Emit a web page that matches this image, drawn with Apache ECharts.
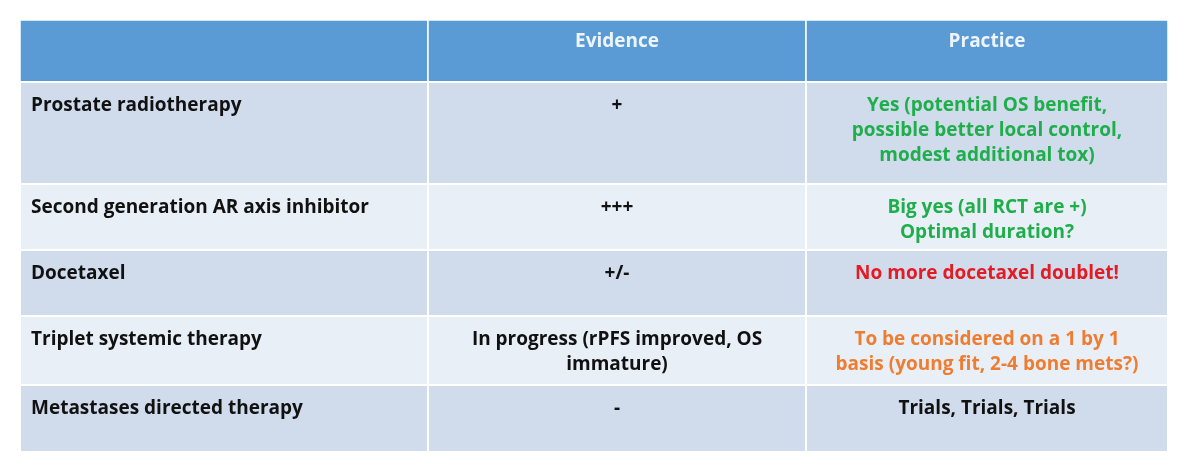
<!DOCTYPE html>
<html><head><meta charset="utf-8">
<script src="https://cdn.jsdelivr.net/npm/echarts@6/dist/echarts.min.js"></script>
<style>html,body{margin:0;background:#fff}#c{width:1200px;height:475px}</style>
</head><body><div id="c"></div>
<script>
const headers = ['', 'Evidence', 'Practice'];
const treatments = ['Prostate radiotherapy', 'Second generation AR axis inhibitor', 'Docetaxel', 'Triplet systemic therapy', 'Metastases directed therapy'];
const evidence = ['+', '+++', '+/-', 'In progress (rPFS improved, OS\nimmature)', '-'];
const practice = ['Yes (potential OS benefit,\npossible better local control,\nmodest additional tox)', 'Big yes (all RCT are +)\nOptimal duration?', 'No more docetaxel doublet!', 'To be considered on a 1 by 1\nbasis (young fit, 2-4 bone mets?)', 'Trials, Trials, Trials'];
const practiceTone = ['green', 'green', 'red', 'orange', 'black'];

// layout (not data)
const colEdges = [0, 408, 786, 1148];
const rowEdges = [0, 62, 164, 230, 296, 365, 432];
const toneColor = {green: '#1fae4b', red: '#e31b23', orange: '#ee7d31', black: '#111'};

const cells = [];
headers.forEach((h, c) => cells.push([c, 0, h, 'header']));
treatments.forEach((t, r) => {
  cells.push([0, r + 1, t, 'name']);
  cells.push([1, r + 1, evidence[r], 'ev']);
  cells.push([2, r + 1, practice[r], practiceTone[r]]);
});

const chart = echarts.init(document.getElementById('c'));
chart.setOption({
  animation: false,
  grid: {left: 20, right: 32, top: 20, bottom: 23},
  xAxis: {type: 'value', min: 0, max: 1148, show: false},
  yAxis: {type: 'value', min: 0, max: 432, inverse: true, show: false},
  series: [{
    type: 'custom',
    data: cells,
    renderItem: (params, api) => {
      const c = api.value(0), r = api.value(1);
      const d = cells[params.dataIndex];
      const p0 = api.coord([colEdges[c], rowEdges[r]]);
      const p1 = api.coord([colEdges[c + 1], rowEdges[r + 1]]);
      const kind = d[3];
      const fill = r === 0 ? '#5b9bd5' : (r % 2 === 1 ? '#d0dbec' : '#e9eff7');
      const left = c === 0;
      const isPractice = c === 2 && r > 0;
      return {
        type: 'group',
        children: [
          {type: 'rect', shape: {x: p0[0], y: p0[1], width: p1[0] - p0[0], height: p1[1] - p0[1]},
           style: {fill: fill, stroke: '#ffffff', lineWidth: r === 0 ? 1.5 : 2}},
          {type: 'text',
           x: left ? p0[0] + 11 : (p0[0] + p1[0]) / 2,
           y: p0[1] + (r === 0 ? 9 : 11),
           style: {
             text: d[2],
             fill: r === 0 ? '#eef4fb' : (isPractice ? toneColor[kind] : '#111'),
             font: 'bold 19px "Open Sans", sans-serif',
             align: left ? 'left' : 'center',
             verticalAlign: 'top',
             lineHeight: 25
           }}
        ]
      };
    }
  }]
});
</script></body></html>
